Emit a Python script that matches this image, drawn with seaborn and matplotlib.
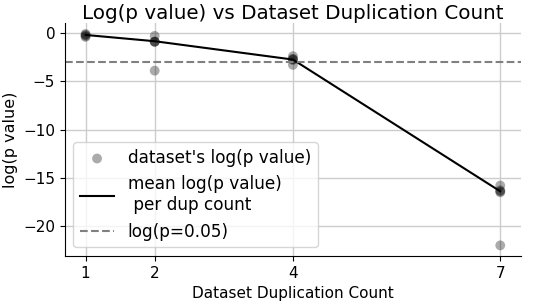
import matplotlib.pyplot as plt
import pandas as pd
import seaborn as sns

# per-dataset log(p value) at each duplication count
dup_counts = [1, 1, 1, 1, 2, 2, 2, 2, 2, 4, 4, 4, 4, 4, 7, 7, 7, 7, 7]
log_p = [-0.1, -0.2, -0.3, -0.4, -0.3, -0.9, -0.9, -0.9, -3.9,
         -2.4, -2.7, -2.7, -2.8, -3.3, -15.8, -16.3, -16.4, -16.5, -22.0]

# mean line
mean_x = [1, 2, 4, 7]
mean_log_p = [-0.2, -0.85, -2.75, -16.4]

threshold = -2.9957  # log(0.05)

pts = pd.DataFrame({"dup": dup_counts, "logp": log_p})
means = pd.DataFrame({"dup": mean_x, "logp": mean_log_p})

fig = plt.figure(figsize=(5.36, 3.08), dpi=100)
ax = fig.add_axes([0.121, 0.169, 0.851, 0.755])

sns.scatterplot(data=pts, x="dup", y="logp", color="black", alpha=0.33,
                s=50, edgecolor="none", label="dataset's log(p value)", ax=ax)
sns.lineplot(data=means, x="dup", y="logp", color="black", linewidth=1.5,
             label="mean log(p value)\n per dup count", ax=ax)
ax.axhline(threshold, color="gray", linestyle="--", linewidth=1.5,
           label="log(p=0.05)")

ax.set_xticks(mean_x)
ax.set_yticks([0, -5, -10, -15, -20])
ax.grid(True, color="#cccccc", linewidth=1)
ax.set_axisbelow(True)
sns.despine(ax=ax)

ax.tick_params(labelsize=11)
ax.set_xlabel("Dataset Duplication Count", fontsize=11)
ax.set_ylabel("log(p value)", fontsize=11.5)
ax.set_title("Log(p value) vs Dataset Duplication Count", fontsize=14.3, pad=3)
ax.legend(loc="lower left", fontsize=12.2)

fig.savefig("out.png", dpi=100)
